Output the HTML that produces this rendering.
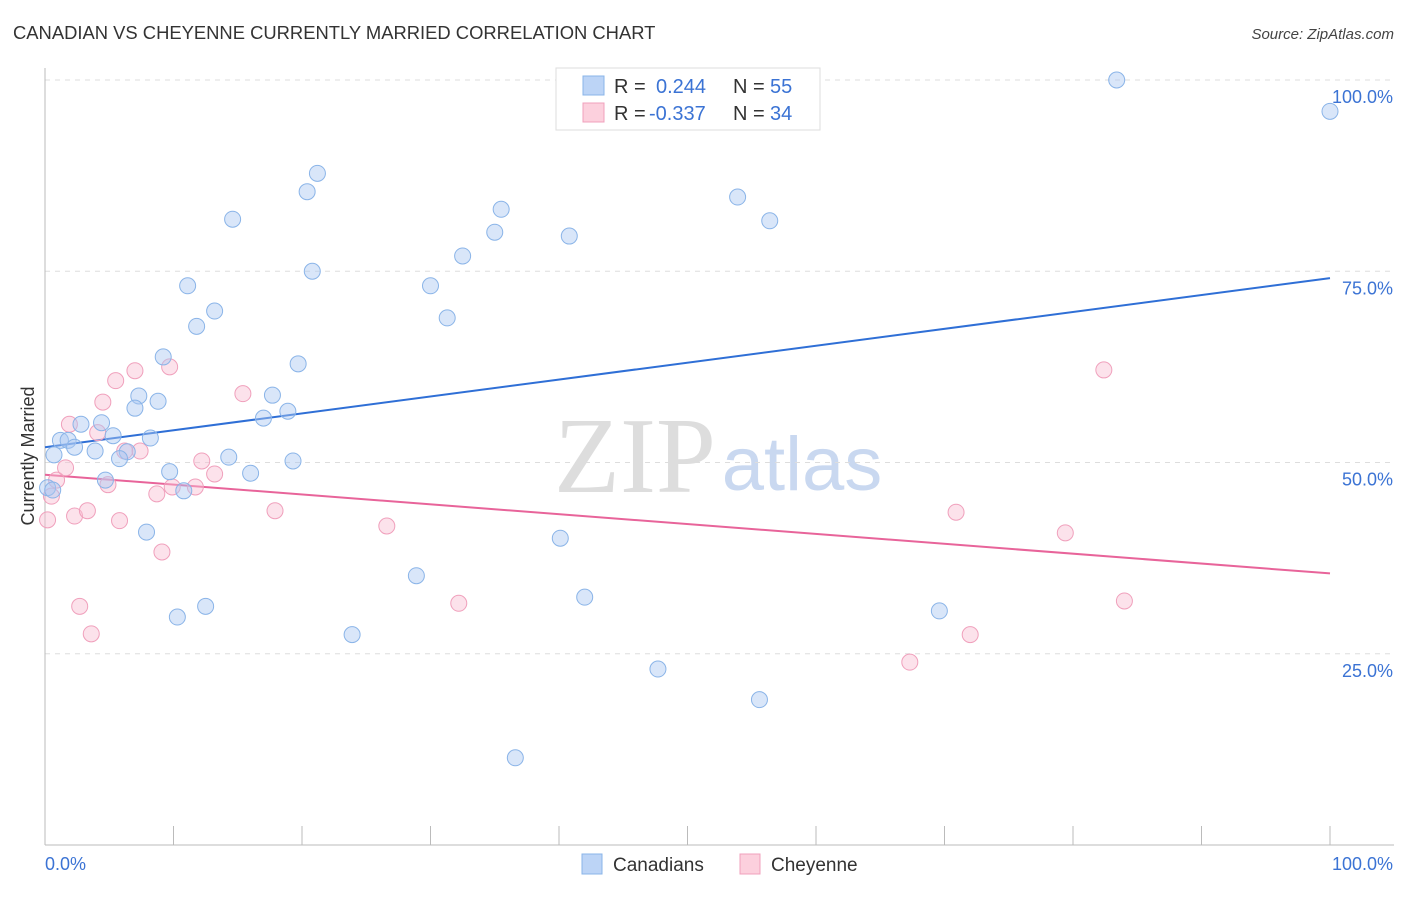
<!DOCTYPE html>
<html><head><meta charset="utf-8"><style>
body{margin:0;background:#fff;font-family:"Liberation Sans",sans-serif;}
</style></head><body>
<svg id="chart" width="1406" height="892" xmlns="http://www.w3.org/2000/svg" font-family="Liberation Sans, sans-serif">
<text x="13" y="39" font-size="18.4" fill="#333">CANADIAN VS CHEYENNE CURRENTLY MARRIED CORRELATION CHART</text>
<text x="1394" y="39" font-size="15" fill="#444" text-anchor="end" font-style="italic">Source: ZipAtlas.com</text>
<g>
<text x="635" y="492" font-size="108" fill="#ddd" font-family="Liberation Serif, serif" text-anchor="middle">ZIP</text>
<text x="802" y="490" font-size="76" fill="#c9d8f0" text-anchor="middle">atlas</text>
</g>
<g id="grid"></g>
<g id="axes"></g>
<g id="lines"></g>
<g id="points"></g>
<text transform="translate(34,456) rotate(-90)" font-size="18" fill="#333" text-anchor="middle">Currently Married</text>
<g>
<rect x="556" y="68" width="264" height="62" fill="#fff" stroke="#ddd"/>
<rect x="583" y="76" width="21" height="19" fill="#bcd4f6" stroke="#8ab4e8"/>
<text x="614" y="93" font-size="20" fill="#333">R =</text>
<text x="656" y="93" font-size="20" fill="#3b73d4">0.244</text>
<text x="733" y="93" font-size="20" fill="#333">N =</text>
<text x="770" y="93" font-size="20" fill="#3b73d4">55</text>
<rect x="583" y="103" width="21" height="19" fill="#fcd0dd" stroke="#f0a0bc"/>
<text x="614" y="120" font-size="20" fill="#333">R =</text>
<text x="649" y="120" font-size="20" fill="#3b73d4">-0.337</text>
<text x="733" y="120" font-size="20" fill="#333">N =</text>
<text x="770" y="120" font-size="20" fill="#3b73d4">34</text>
</g>
<g>
<rect x="582" y="854" width="20" height="20" fill="#bcd4f6" stroke="#8ab4e8"/>
<text x="613" y="871" font-size="19" fill="#333">Canadians</text>
<rect x="740" y="854" width="20" height="20" fill="#fcd0dd" stroke="#f0a0bc"/>
<text x="771" y="871" font-size="19" fill="#333">Cheyenne</text>
</g>
</svg>
<script>
const blueX=[83.4,100,21.2,20.4,14.6,35.5,53.9,56.4,35.0,40.8,32.5,20.8,11.1,30.0,13.2,11.8,31.3,9.2,19.7,17.7,7.3,8.8,7.0,18.9,17.0,2.8,4.4,5.3,1.2,1.8,8.2,2.3,3.9,0.7,6.4,5.8,14.3,19.3,9.7,16.0,4.7,10.8,0.2,7.9,40.1,28.9,42.0,12.5,10.3,69.6,23.9,47.7,55.6,36.6,0.6];
const blueY=[100.0,95.9,87.8,85.4,81.8,83.1,84.7,81.6,80.1,79.6,77.0,75.0,73.1,73.1,69.8,67.8,68.9,63.8,62.9,58.8,58.7,58.0,57.1,56.7,55.8,55.0,55.2,53.5,52.9,52.9,53.2,52.0,51.5,51.0,51.4,50.5,50.7,50.2,48.8,48.6,47.7,46.3,46.7,40.9,40.1,35.2,32.4,31.2,29.8,30.6,27.5,23.0,19.0,11.4,46.4];
const pinkX=[0.2,0.5,0.9,1.6,1.9,4.1,2.3,3.3,2.7,3.6,4.5,5.5,4.9,5.8,6.2,7.0,7.4,9.1,8.7,9.7,9.9,11.7,12.2,13.2,15.4,17.9,26.6,32.2,67.3,70.9,72.0,79.4,82.4,84.0];
const pinkY=[42.5,45.6,47.7,49.3,55.0,53.9,43.0,43.7,31.2,27.6,57.9,60.7,47.1,42.4,51.5,62.0,51.5,38.3,45.9,62.5,46.8,46.8,50.2,48.5,59.0,43.7,41.7,31.6,23.9,43.5,27.5,40.8,62.1,31.9];
const blueTrend=[52.0,74.1];
const pinkTrend=[48.4,35.5];
const yTicks=[25,50,75,100];
const xTickCount=10;
const NS='http://www.w3.org/2000/svg';
const sx=v=>45+v*12.85, sy=v=>845-v*7.65;
function mk(tag,attrs,parent){const e=document.createElementNS(NS,tag);for(const k in attrs)e.setAttribute(k,attrs[k]);document.getElementById(parent).appendChild(e);return e;}
yTicks.forEach(t=>{
  const l=mk('line',{x1:45,x2:1394,y1:sy(t),y2:sy(t),stroke:'#ddd','stroke-dasharray':'5,5'},'grid');
  
  
  const tx=mk('text',{x:1393,y:sy(t)+23,'font-size':18,fill:'#3b73d4','text-anchor':'end'},'axes');
  tx.textContent=t.toFixed(1)+'%';
  
  
});
const ax=mk('line',{x1:45,x2:1394,y1:845,y2:845,stroke:'#bbb'},'axes');


const ay=mk('line',{x1:45,x2:45,y1:68,y2:845,stroke:'#bbb'},'axes');


for(let i=0;i<=xTickCount;i++){
  const tk=mk('line',{x1:sx(i*10),x2:sx(i*10),y1:826,y2:845,stroke:'#bbb'},'axes');
  
  
}
const x0=mk('text',{x:45,y:870,'font-size':18,fill:'#3b73d4'},'axes');x0.textContent='0.0%';


const x1=mk('text',{x:1393,y:870,'font-size':18,fill:'#3b73d4','text-anchor':'end'},'axes');x1.textContent='100.0%';


function pts(X,Y,fill,stroke,name){X.forEach((x,i)=>{
  const c=mk('circle',{cx:sx(x),cy:sy(Y[i]),r:8,fill:fill,stroke:stroke,'stroke-width':1},'points');
  
  
});}
pts(pinkX,pinkY,'rgba(248,190,210,0.45)','#f0a0bc','cheyenne-point');
pts(blueX,blueY,'rgba(170,200,242,0.45)','#8ab4e8','canadian-point');
const bl=mk('line',{x1:sx(0),y1:sy(blueTrend[0]),x2:sx(100),y2:sy(blueTrend[1]),stroke:'#2f6fd6','stroke-width':2},'lines');


const pl=mk('line',{x1:sx(0),y1:sy(pinkTrend[0]),x2:sx(100),y2:sy(pinkTrend[1]),stroke:'#e8649a','stroke-width':2},'lines');


</script>
</body></html>
